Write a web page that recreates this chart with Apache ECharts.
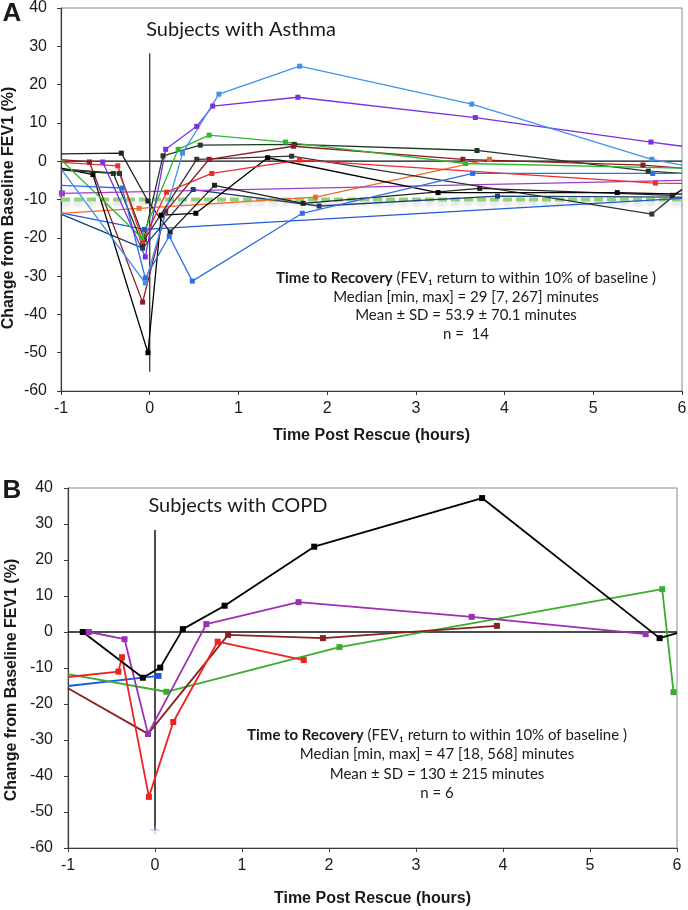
<!DOCTYPE html>
<html><head><meta charset="utf-8">
<script src="https://cdn.jsdelivr.net/npm/echarts@6/dist/echarts.min.js"></script>
<style>html,body{margin:0;padding:0;background:#fff}#c{width:688px;height:910px}</style>
</head><body><div id="c"></div>
<script>
// ---------- axis ticks ----------
const xTicks = [-1, 0, 1, 2, 3, 4, 5, 6];
const yTicks = [-60, -50, -40, -30, -20, -10, 0, 10, 20, 30, 40];

// ---------- Panel A: Subjects with Asthma  [hours, % change] ----------
const aLightBlue = [[-1,-2],[-0.05,-31.8],[0.37,2.1],[0.78,17.5],[1.69,24.8],[3.63,14.9],[5.66,0.5],[6,-1]];
const aViolet    = [[-0.53,-0.2],[-0.05,-25],[0.18,3.1],[0.53,9.1],[0.71,14.4],[1.67,16.7],[3.67,11.4],[5.65,5.0],[6,3.9]];
const aMagenta   = [[-0.99,-8.4],[6,-5.0]];
const aGreen     = [[-1,0.4],[-0.09,-20],[0.32,3.1],[0.67,6.8],[1.53,5.0],[3.56,-0.6],[6,-1.8]];
const aDarkGreen = [[-1,-2.3],[-0.41,-3.2],[-0.08,-21.7],[0.15,1.4],[0.57,4.2],[1.63,4.4],[3.69,2.8],[5.62,-2.6],[6,-3.2]];
const aDarkRed   = [[-1,0.4],[-0.68,-0.2],[-0.08,-36.8],[0.18,-13.1],[0.67,0.5],[1.62,3.9],[3.53,0.5],[5.56,-1.0],[6,-1.8]];
const aBlack     = [[-1,-1.8],[-0.64,-3.5],[-0.02,-50],[0.13,-14.1],[0.52,-13.6],[1.33,0.9],[3.25,-8.2],[5.27,-8.2],[6,-8.6]];
const aBlack2    = [[-1,1.9],[-0.32,2.1],[-0.02,-10.4],[0.23,-18.5],[0.73,-6.3],[1.73,-11.0],[3.72,-7.1],[5.89,-8.9],[6,-7.5]];
const aNavy      = [[-1,-13.8],[-0.08,-22.7],[0.49,-7.4],[1.91,-11.7],[3.92,-9.1],[6,-9.4]];
const aGrey      = [[-1,-2],[-0.34,-3.2],[-0.06,-20.5],[0.53,0.5],[1.6,1.3],[5.66,-13.8],[6,-7.3]];
const aBlueFlat  = [[-1,-13.5],[-0.06,-17.8],[6,-9.7]];
const aBlue      = [[-1,-6.3],[-0.31,-7],[-0.05,-30.5],[0.22,-19.6],[0.48,-31.3],[1.72,-13.6],[3.64,-3.2],[5.67,-3.2],[6,-3.2]];
const aOrange    = [[-1,-13.6],[-0.12,-12.3],[1.87,-9.4],[3.83,0.5]];
const aRed       = [[-1,-0.3],[-0.36,-1.2],[-0.08,-21],[0.19,-8.1],[0.70,-3.2],[1.69,0.3],[5.70,-5.7],[6,-5.8]];
const aThreshold = [[-1,-10],[6,-10]];
const aZero      = [[-1,0],[6,0]];
const aRescue    = [[0,28.2],[0,-55]];

// ---------- Panel B: Subjects with COPD ----------
const bBlack   = [[-0.83,0],[-0.14,-12.7],[0.06,-9.9],[0.32,0.8],[0.80,7.3],[1.83,23.7],[3.76,37.2],[5.80,-1.7],[6,-0.3]];
const bPurple  = [[-0.76,0],[-0.35,-2],[-0.08,-28.3],[0.59,2.2],[1.65,8.3],[3.64,4.2],[5.64,-0.6]];
const bRed     = [[-1,-12.5],[-0.42,-11],[-0.38,-7],[-0.07,-45.8],[0.21,-25],[0.72,-2.7],[1.71,-7.8]];
const bDarkRed = [[-1,-15.6],[-0.08,-28.3],[0.84,-0.8],[1.93,-1.7],[3.93,1.7]];
const bGreen   = [[-1,-11.7],[0.13,-16.6],[2.12,-4.2],[5.83,11.9],[5.96,-16.7]];
const bBlue    = [[-1,-15],[0.04,-12.2]];
const bZero    = [[-1,0],[6,0]];
const bRescue  = [[0,28.3],[0,-55]];
const bPlus    = [[0,-55]];

// ---------- build ----------
function lineSeries(data, color, g, lw, ss, z) {
  return {
    type: 'line', xAxisIndex: g, yAxisIndex: g, clip: true, animation: false, z: z || 3,
    data: data.map(p => ({ value: p, symbol: (p[0] <= -1 || p[0] >= 6) ? 'none' : 'rect' })),
    symbol: 'rect', symbolSize: ss, showAllSymbol: true,
    lineStyle: { color: color, width: lw }, itemStyle: { color: color },
    emphasis: { disabled: true }
  };
}
function plainLine(data, color, g, lw, z) {
  return {
    type: 'line', xAxisIndex: g, yAxisIndex: g, data: data, symbol: 'none', animation: false,
    lineStyle: { color: color, width: lw }, z: z || 2, emphasis: { disabled: true }
  };
}
const sansFam = '"Liberation Sans", Arial, sans-serif';
const tickFont = { fontSize: 16, color: '#1a1a1a', fontFamily: sansFam };
const nameFont = { fontSize: 16, color: '#1a1a1a', fontWeight: 'bold', fontFamily: sansFam };
function xAx(g, gap) {
  return {
    type: 'value', gridIndex: g, min: xTicks[0], max: xTicks[xTicks.length - 1], interval: 1,
    axisLine: { show: true, onZero: false, lineStyle: { color: '#3c3c3c', width: 1.2 } },
    axisTick: { show: true, length: 4, lineStyle: { color: '#3c3c3c' } },
    splitLine: { show: false },
    axisLabel: Object.assign({ margin: 10 }, tickFont),
    name: 'Time Post Rescue (hours)', nameLocation: 'middle', nameGap: gap, nameTextStyle: nameFont
  };
}
function yAx(g, margin) {
  return {
    type: 'value', gridIndex: g, min: yTicks[0], max: yTicks[yTicks.length - 1], interval: 10,
    axisLine: { show: true, onZero: false, lineStyle: { color: '#3c3c3c', width: 1.2 } },
    axisTick: { show: true, length: 4, lineStyle: { color: '#3c3c3c' } },
    splitLine: { show: false },
    axisLabel: Object.assign({ margin: margin }, tickFont)
  };
}
function txt(x, y, text, font, rich) {
  const style = { x: x, y: y, text: text, font: font, fill: '#1a1a1a', align: 'center', verticalAlign: 'middle', textAlign: 'center', textVerticalAlign: 'middle' };
  if (rich) style.rich = rich;
  return { type: 'text', style: style, z: 10 };
}
function vtxt(x, y, text) {
  return { type: 'text', x: x, y: y, rotation: Math.PI / 2, z: 10,
    style: { x: 0, y: 0, text: text, font: 'bold 16px ' + sansFam, fill: '#1a1a1a', align: 'center', verticalAlign: 'middle', textAlign: 'center', textVerticalAlign: 'middle' } };
}
const annFont = '15px Lato, sans-serif';
const annRich = { b: { font: 'bold 15px Lato, sans-serif', fill: '#1a1a1a' }, n: { font: '15px Lato, sans-serif', fill: '#1a1a1a' } };

const option = {
  animation: false,
  backgroundColor: '#ffffff',
  grid: [
    { left: 61, top: 8, width: 621, height: 383, show: true, borderColor: '#8c8c8c', borderWidth: 1, backgroundColor: 'rgba(0,0,0,0)', outerBoundsMode: 'none', containLabel: false },
    { left: 68, top: 488, width: 609, height: 360, show: true, borderColor: '#8c8c8c', borderWidth: 1, backgroundColor: 'rgba(0,0,0,0)', outerBoundsMode: 'none', containLabel: false }
  ],
  xAxis: [xAx(0, 37), xAx(1, 43)],
  yAxis: [yAx(0, 14), yAx(1, 15)],
  series: [
    plainLine(aZero, '#111', 0, 1.2, 1),
    {
      type: 'line', xAxisIndex: 0, yAxisIndex: 0, data: aThreshold, symbol: 'none', animation: false, z: 1,
      lineStyle: { color: '#8fd27a', width: 4, type: [9, 4], shadowColor: 'rgba(0,0,0,0.15)', shadowBlur: 4, shadowOffsetY: 4 }
    },
    plainLine(aRescue, '#333', 0, 1.3, 2),
    lineSeries(aBlueFlat, '#1f5bd6', 0, 1.3, 5),
    lineSeries(aNavy, '#1d3f73', 0, 1.3, 5),
    lineSeries(aOrange, '#f26a22', 0, 1.3, 5),
    lineSeries(aMagenta, '#a03cc8', 0, 1.3, 6),
    lineSeries(aGrey, '#333333', 0, 1.3, 5),
    lineSeries(aBlack2, '#222222', 0, 1.3, 5),
    lineSeries(aBlack, '#000000', 0, 1.3, 5),
    lineSeries(aDarkGreen, '#1d3a22', 0, 1.3, 5),
    lineSeries(aRed, '#ee2a2a', 0, 1.3, 5),
    lineSeries(aDarkRed, '#8b1c24', 0, 1.3, 5),
    lineSeries(aGreen, '#2eb82e', 0, 1.3, 5),
    lineSeries(aBlue, '#2f6fe6', 0, 1.3, 5),
    lineSeries(aViolet, '#7a2fe0', 0, 1.3, 5),
    lineSeries(aLightBlue, '#4192ee', 0, 1.3, 5),

    plainLine(bZero, '#111', 1, 1.5, 1),
    plainLine(bRescue, '#111', 1, 1.5, 2),
    {
      type: 'scatter', xAxisIndex: 1, yAxisIndex: 1, data: bPlus, animation: false, z: 3,
      symbol: 'path://M4,0h1v4h4v1h-4v4h-1v-4h-4v-1h4z', symbolSize: 9, itemStyle: { color: '#9a9ad2' }
    },
    lineSeries(bBlue, '#1f58e0', 1, 1.8, 6),
    lineSeries(bGreen, '#3aad2e', 1, 1.8, 6),
    lineSeries(bDarkRed, '#8b2020', 1, 1.8, 6),
    lineSeries(bRed, '#ee2222', 1, 1.8, 6),
    lineSeries(bPurple, '#9b30b5', 1, 1.8, 6),
    lineSeries(bBlack, '#000000', 1, 1.8, 6)
  ],
  graphic: [
    txt(12, 14, 'A', 'bold 26px ' + sansFam),
    txt(12, 491, 'B', 'bold 26px ' + sansFam),
    vtxt(9, 208, 'Change from Baseline FEV1 (%)'),
    vtxt(12, 680, 'Change from Baseline FEV1 (%)'),
    txt(241, 30, 'Subjects with Asthma', '20px Lato, sans-serif'),
    txt(238, 506, 'Subjects with COPD', '20px Lato, sans-serif'),
    txt(466, 278, '{b|Time to Recovery}{n| (FEV₁ return to within 10% of baseline )}', annFont, annRich),
    txt(466, 297, 'Median [min, max] = 29 [7, 267] minutes', annFont),
    txt(466, 315, 'Mean ± SD = 53.9 ± 70.1 minutes', annFont),
    txt(466, 334, 'n =  14', annFont),
    txt(437, 735, '{b|Time to Recovery}{n| (FEV₁ return to within 10% of baseline )}', annFont, annRich),
    txt(437, 754, 'Median [min, max] = 47 [18, 568] minutes', annFont),
    txt(437, 774, 'Mean ± SD = 130 ± 215 minutes', annFont),
    txt(437, 793, 'n = 6', annFont)
  ]
};
const chart = echarts.init(document.getElementById('c'), null, { renderer: 'canvas' });
chart.setOption(option);
</script>
</body></html>
